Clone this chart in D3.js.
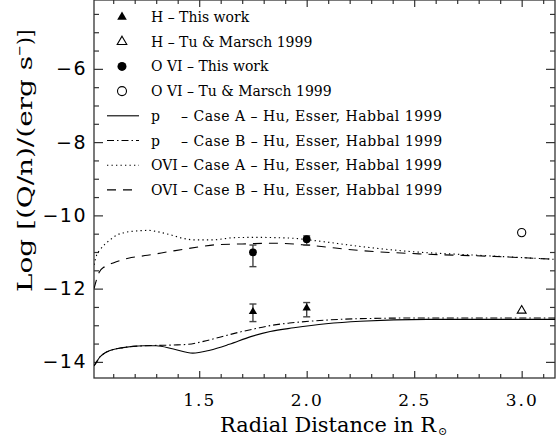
<!DOCTYPE html>
<html>
<head>
<meta charset="utf-8">
<script src="https://cdn.jsdelivr.net/npm/d3@7"></script>
<style>
  body { margin: 0; background: #fff; }
  svg { display: block; }
  .frame { fill: none; stroke: #333; stroke-width: 1.3; }
  .axis path.domain { display: none; }
  .axis line { stroke: #333; stroke-width: 1.2; }
  .ylab text { font-family: "DejaVu Sans", sans-serif; font-size: 19px; letter-spacing: 1.5px; fill: #000; }
  .xlab text { font-family: "DejaVu Serif", serif; font-size: 17px; letter-spacing: 2px; fill: #000; }
  .title { font-family: "DejaVu Serif", serif; fill: #000; }
  .legend text { font-family: "DejaVu Serif", serif; font-size: 14px; fill: #000; }
  .legend text.spaced { letter-spacing: 0.5px; }
  .curve { fill: none; stroke: #000; stroke-width: 1.1; }
  .errbar { stroke: #444; stroke-width: 1.4; }
</style>
</head>
<body>
<svg id="chart" width="556" height="439"></svg>
<script>

// ----- Data -------------------------------------------------------------------
// model curves: [radial distance, log(Q/n)]
var PROTON_CASE_A = [[1.011,-14.11],[1.025,-13.98],[1.039,-13.86],[1.06,-13.76],[1.085,-13.69],
  [1.146,-13.61],[1.24,-13.56],[1.30,-13.56],[1.38,-13.65],[1.47,-13.76],[1.55,-13.68],
  [1.64,-13.52],[1.74,-13.31],[1.83,-13.17],[1.94,-13.07],[2.09,-12.96],[2.25,-12.89],
  [2.56,-12.84],[2.8,-12.84],[3.155,-12.84]];
var PROTON_CASE_B = [[1.011,-14.11],[1.025,-13.98],[1.039,-13.86],[1.06,-13.76],[1.085,-13.69],
  [1.146,-13.61],[1.24,-13.56],[1.30,-13.55],[1.38,-13.54],[1.45,-13.52],[1.52,-13.44],
  [1.60,-13.32],[1.70,-13.17],[1.78,-13.07],[1.83,-13.01],[1.92,-12.94],[2.015,-12.89],
  [2.25,-12.82],[2.56,-12.80],[3.155,-12.80]];
var OVI_CASE_A = [[1.011,-11.35],[1.022,-11.1],[1.039,-10.94],[1.085,-10.67],[1.12,-10.53],
  [1.16,-10.46],[1.22,-10.42],[1.265,-10.41],[1.30,-10.44],[1.36,-10.52],[1.42,-10.62],
  [1.48,-10.67],[1.56,-10.67],[1.66,-10.61],[1.76,-10.60],[1.92,-10.62],[2.08,-10.72],
  [2.25,-10.85],[2.49,-10.99],[2.80,-11.09],[3.155,-11.2]];
var OVI_CASE_B = [[1.011,-12.0],[1.035,-11.55],[1.06,-11.4],[1.1,-11.3],[1.17,-11.17],
  [1.26,-11.09],[1.38,-10.97],[1.50,-10.86],[1.58,-10.80],[1.70,-10.78],[1.86,-10.76],
  [2.015,-10.82],[2.25,-10.96],[2.56,-11.06],[2.87,-11.12],[3.155,-11.2]];

// measurements: r, value, upper, lower
var H_THIS_WORK = [{r: 1.75, v: -12.63, hi: -12.42, lo: -12.90},
                   {r: 2.0,  v: -12.53, hi: -12.38, lo: -12.77}];
var OVI_THIS_WORK = [{r: 1.75, v: -11.01, hi: -10.81, lo: -11.40},
                     {r: 2.0,  v: -10.65, hi: -10.56, lo: -10.81}];
var H_TU_MARSCH = [{r: 3.0, v: -12.60}];
var OVI_TU_MARSCH = [{r: 3.0, v: -10.47}];

var X_MAJOR = [1.5, 2.0, 2.5, 3.0];
var X_MINOR = [1.1, 1.2, 1.3, 1.4, 1.6, 1.7, 1.8, 1.9, 2.1, 2.2, 2.3, 2.4, 2.6, 2.7, 2.8, 2.9, 3.1];
var Y_MAJOR = [-14, -12, -10, -8, -6];
var Y_MINOR = [-13.5, -13, -12.5, -11.5, -11, -10.5, -9.5, -9, -8.5, -7.5, -7, -6.5, -5.5, -5, -4.5];

var LEGEND_MARKERS = ['H \u2013 This work', 'H \u2013 Tu & Marsch 1999',
                      'O VI \u2013 This work', 'O VI \u2013 Tu & Marsch 1999'];
var LEGEND_LINES = [['p', '\u2013 Case A \u2013 Hu, Esser, Habbal 1999'],
                    ['p', '\u2013 Case B \u2013 Hu, Esser, Habbal 1999'],
                    ['OVI', '\u2013 Case A \u2013 Hu, Esser, Habbal 1999'],
                    ['OVI', '\u2013 Case B \u2013 Hu, Esser, Habbal 1999']];

// ----- SVG Setup --------------------------------------------------------------
var SVG = d3.select('#chart');
var L = 94, R = 555, T = 0, B = 378;

var x = d3.scaleLinear().domain([1.0107, 3.155]).range([L, R]);
var y = d3.scaleLinear().domain([-14.44, -4.12]).range([B, T]);

var DASH = {
  solid: null,
  dashdot: '7,3,1.5,3',
  dotted: '1.3,3.2',
  dashed: '9,7'
};

SVG.append('defs').append('clipPath').attr('id', 'plot-clip')
  .append('rect').attr('x', L).attr('y', T).attr('width', R - L).attr('height', B - T);

// ----- Axes -------------------------------------------------------------------
function addAxis(axis, tx, ty, cls) {
  return SVG.append('g')
    .attr('class', 'axis ' + (cls || ''))
    .attr('transform', 'translate(' + tx + ',' + ty + ')')
    .call(axis);
}

addAxis(d3.axisBottom(x).tickValues(X_MAJOR).tickSize(-7).tickPadding(16)
  .tickFormat(d3.format('.1f')), 0, B, 'xlab');
addAxis(d3.axisBottom(x).tickValues(X_MINOR).tickSize(-4).tickFormat(''), 0, B);
addAxis(d3.axisTop(x).tickValues(X_MAJOR).tickSize(-7).tickFormat(''), 0, T);
addAxis(d3.axisTop(x).tickValues(X_MINOR).tickSize(-4).tickFormat(''), 0, T);

addAxis(d3.axisLeft(y).tickValues(Y_MAJOR).tickSize(-9).tickPadding(7)
  .tickFormat(d3.format('d')), L, 0, 'ylab');
addAxis(d3.axisLeft(y).tickValues(Y_MINOR).tickSize(-5).tickFormat(''), L, 0);
addAxis(d3.axisRight(y).tickValues(Y_MAJOR).tickSize(-9).tickFormat(''), R, 0);
addAxis(d3.axisRight(y).tickValues(Y_MINOR).tickSize(-5).tickFormat(''), R, 0);

SVG.append('rect').attr('class', 'frame')
  .attr('x', L).attr('y', T).attr('width', R - L).attr('height', B - T);

// axis titles
var xt = SVG.append('text').attr('class', 'title')
  .attr('x', 220).attr('y', 432)
  .style('font-size', '21px');
xt.append('tspan')
  .attr('textLength', 216).attr('lengthAdjust', 'spacingAndGlyphs')
  .text('Radial Distance in R');
xt.append('tspan').attr('dx', 2).attr('dy', 3).style('font-size', '11px').text('\u2299');

var yt = SVG.append('text').attr('class', 'title')
  .attr('transform', 'translate(32,292) rotate(-90)')
  .style('font-size', '20px');
yt.append('tspan')
  .attr('textLength', 236).attr('lengthAdjust', 'spacingAndGlyphs')
  .text('Log [(Q/n)/(erg s');
yt.append('tspan').attr('dy', -8).style('font-size', '13px').text('\u2212');
yt.append('tspan').attr('dy', 8).text(')]');

// ----- Model curves -----------------------------------------------------------
var line = d3.line()
  .x(function(d) { return x(d[0]); })
  .y(function(d) { return y(d[1]); })
  .curve(d3.curveMonotoneX);

var curves = SVG.append('g').attr('clip-path', 'url(#plot-clip)');
[[PROTON_CASE_A, 'solid'], [PROTON_CASE_B, 'dashdot'],
 [OVI_CASE_A, 'dotted'], [OVI_CASE_B, 'dashed']].forEach(function(c) {
  curves.append('path')
    .attr('class', 'curve')
    .attr('d', line(c[0]))
    .attr('stroke-dasharray', DASH[c[1]]);
});

// ----- Measurements -----------------------------------------------------------
var pts = SVG.append('g');

function errorBars(data) {
  data.forEach(function(d) {
    var g = pts.append('g').attr('class', 'errbar');
    g.append('line').attr('x1', x(d.r)).attr('x2', x(d.r)).attr('y1', y(d.hi)).attr('y2', y(d.lo));
    g.append('line').attr('x1', x(d.r) - 3.5).attr('x2', x(d.r) + 3.5).attr('y1', y(d.hi)).attr('y2', y(d.hi));
    g.append('line').attr('x1', x(d.r) - 3.5).attr('x2', x(d.r) + 3.5).attr('y1', y(d.lo)).attr('y2', y(d.lo));
  });
}
errorBars(H_THIS_WORK);
errorBars(OVI_THIS_WORK);

var tri = d3.symbol().type(d3.symbolTriangle);

pts.selectAll('.h-this').data(H_THIS_WORK).enter().append('path')
  .attr('d', tri.size(30)())
  .attr('transform', function(d) { return 'translate(' + x(d.r) + ',' + y(d.v) + ')'; })
  .attr('fill', '#000');

pts.selectAll('.h-tm').data(H_TU_MARSCH).enter().append('path')
  .attr('d', tri.size(34)())
  .attr('transform', function(d) { return 'translate(' + x(d.r) + ',' + y(d.v) + ')'; })
  .attr('fill', '#fff').attr('stroke', '#000').attr('stroke-width', 1.1);

pts.selectAll('.o-this').data(OVI_THIS_WORK).enter().append('circle')
  .attr('cx', function(d) { return x(d.r); })
  .attr('cy', function(d) { return y(d.v); })
  .attr('r', 3.9).attr('fill', '#000');

pts.selectAll('.o-tm').data(OVI_TU_MARSCH).enter().append('circle')
  .attr('cx', function(d) { return x(d.r); })
  .attr('cy', function(d) { return y(d.v); })
  .attr('r', 4.1).attr('fill', '#fff').attr('stroke', '#000').attr('stroke-width', 1.1);

// ----- Legend -----------------------------------------------------------------
var leg = SVG.append('g').attr('class', 'legend');
var ROW0 = 17, STEP = 24.7, SYM_X = 122, TXT_X = 151;

LEGEND_MARKERS.forEach(function(label, i) {
  var cy = ROW0 + i * STEP;
  var g = leg.append('g');
  if (i < 2) {
    g.append('path').attr('d', tri.size(40)())
      .attr('transform', 'translate(' + SYM_X + ',' + cy + ')')
      .attr('fill', i === 0 ? '#000' : '#fff')
      .attr('stroke', '#000').attr('stroke-width', i === 0 ? 0 : 1.1);
  } else {
    g.append('circle').attr('cx', SYM_X).attr('cy', cy).attr('r', 4.5)
      .attr('fill', i === 2 ? '#000' : '#fff')
      .attr('stroke', '#000').attr('stroke-width', i === 2 ? 0 : 1.1);
  }
  g.append('text').attr('x', TXT_X).attr('y', cy + 5).text(label);
});

var styles = ['solid', 'dashdot', 'dotted', 'dashed'];
LEGEND_LINES.forEach(function(label, i) {
  var cy = ROW0 + (i + 4) * STEP;
  var g = leg.append('g');
  g.append('line').attr('class', 'curve')
    .attr('x1', 107).attr('x2', 139).attr('y1', cy).attr('y2', cy)
    .attr('stroke-dasharray', DASH[styles[i]]);
  g.append('text').attr('x', TXT_X).attr('y', cy + 5).text(label[0]);
  g.append('text').attr('class', 'spaced').attr('x', 181).attr('y', cy + 5).text(label[1]);
});

</script>
</body>
</html>
